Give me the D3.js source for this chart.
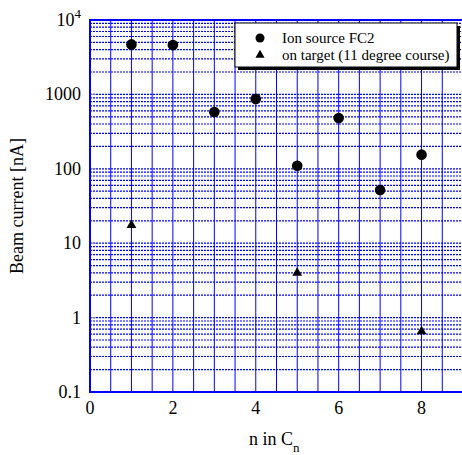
<!DOCTYPE html>
<html lang="en">
<head>
    <meta charset="UTF-8">
    <title>Beam current</title>
    <script src="https://d3js.org/d3.v7.min.js"></script>
    <style>
        body { margin: 0; background: #fff; }
    </style>
</head>
<body>
    <svg id="chart" width="462" height="455"></svg>
<script>
    // data
    const nValues = [1, 2, 3, 4, 5, 6, 7, 8];
    const ionSource = [4700, 4600, 580, 870, 110, 480, 52, 155];
    const targetN = [1, 5, 8];
    const onTarget = [17.5, 4.0, 0.65];
    const xTicks = [0, 2, 4, 6, 8];
    const yTicks = [0.1, 1, 10, 100, 1000, 10000];
    const yTickLabels = ['0.1', '1', '10', '100', '1000', '10^4'];
    const legendLabels = ['Ion source FC2', 'on target (11 degree course)'];

    const svg = d3.select('#chart');
    const mLeft = 90, mRight = 463, mTop = 20, mBottom = 392;
    const blue = '#0000ff';

    const x = d3.scaleLinear().domain([0, 9]).range([mLeft, mRight]);
    const y = d3.scaleLog().domain([0.1, 10000]).range([mBottom, mTop]);

    // vertical grid every 0.5
    const vLines = d3.range(0, 9.01, 0.5);
    svg.append('g').selectAll('line')
        .data(vLines)
        .join('line')
        .attr('x1', d => x(d)).attr('x2', d => x(d))
        .attr('y1', mTop).attr('y2', mBottom)
        .attr('stroke', blue)
        .attr('stroke-width', 1);

    // horizontal dotted grid, 1..9 per decade
    const hLines = [];
    for (let e = -1; e < 4; e++) {
        for (let m = 1; m < 10; m++) hLines.push(m * Math.pow(10, e));
    }
    svg.append('g').selectAll('line')
        .data(hLines)
        .join('line')
        .attr('x1', mLeft).attr('x2', mRight)
        .attr('y1', d => y(d)).attr('y2', d => y(d))
        .attr('stroke', blue)
        .attr('stroke-width', 1.2)
        .attr('stroke-dasharray', '2,1');

    // small ticks at decades
    svg.append('g').selectAll('line')
        .data(yTicks)
        .join('line')
        .attr('x1', mLeft).attr('x2', mLeft + 6)
        .attr('y1', d => y(d)).attr('y2', d => y(d))
        .attr('stroke', '#8888cc');

    // frame
    svg.append('rect')
        .attr('x', mLeft).attr('y', mTop)
        .attr('width', mRight - mLeft).attr('height', mBottom - mTop)
        .attr('fill', 'none')
        .attr('stroke', blue)
        .attr('stroke-width', 2);

    // x axis labels
    svg.append('g').selectAll('text')
        .data(xTicks)
        .join('text')
        .attr('x', d => x(d))
        .attr('y', mBottom + 22)
        .attr('text-anchor', 'middle')
        .attr('font-size', 18)
        .text(d => d);

    // y axis labels
    const yl = svg.append('g').selectAll('text')
        .data(yTicks)
        .join('text')
        .attr('x', 81)
        .attr('y', d => y(d) + 6)
        .attr('text-anchor', 'end')
        .attr('font-size', 18);
    yl.each(function (d, i) {
        const t = d3.select(this);
        const lab = yTickLabels[i];
        if (lab.includes('^')) {
            const [b, p] = lab.split('^');
            t.append('tspan').text(b);
            t.append('tspan').attr('dy', -8).attr('font-size', 13).text(p);
        } else {
            t.text(lab);
        }
    });

    // axis titles
    svg.append('text')
        .attr('transform', `translate(23,${(mTop + mBottom) / 2}) rotate(-90)`)
        .attr('text-anchor', 'middle')
        .attr('font-size', 18)
        .text('Beam current [nA]');

    const xt = svg.append('text')
        .attr('x', 249)
        .attr('y', 445)
        .attr('font-size', 18);
    xt.append('tspan').text('n in C');
    xt.append('tspan').attr('dy', 7).attr('font-size', 13).text('n');

    // data points
    svg.append('g').selectAll('circle')
        .data(nValues)
        .join('circle')
        .attr('cx', d => x(d))
        .attr('cy', (d, i) => y(ionSource[i]))
        .attr('r', 5.3)
        .attr('fill', '#000');

    const tri = d3.symbol().type(d3.symbolTriangle).size(42);
    svg.append('g').selectAll('path')
        .data(targetN)
        .join('path')
        .attr('transform', (d, i) => `translate(${x(d)},${y(onTarget[i])})`)
        .attr('d', tri)
        .attr('fill', '#000');

    // legend
    const lg = svg.append('g').attr('transform', 'translate(235,23)');
    lg.append('rect').attr('x', 3).attr('y', 3).attr('width', 222).attr('height', 44).attr('fill', '#000');
    lg.append('rect').attr('x', 0).attr('y', 0).attr('width', 222).attr('height', 44)
        .attr('fill', '#fff').attr('stroke', '#000').attr('stroke-width', 1);
    lg.append('circle').attr('cx', 25).attr('cy', 15).attr('r', 4.5).attr('fill', '#000');
    lg.append('path').attr('transform', 'translate(25,32)').attr('d', d3.symbol().type(d3.symbolTriangle).size(36)).attr('fill', '#000');
    lg.selectAll('text.lab')
        .data(legendLabels)
        .join('text')
        .attr('class', 'lab')
        .attr('x', 47)
        .attr('y', (d, i) => 20 + i * 17)
        .attr('font-size', 15)
        .text(d => d);

    // serif font on every text
    svg.selectAll('text').style('font-family', '"Liberation Serif"');
</script>
</body>
</html>
